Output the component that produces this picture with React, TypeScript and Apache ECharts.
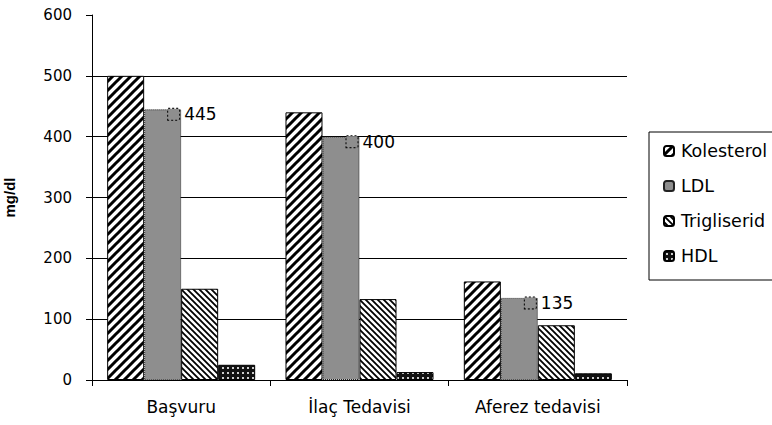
import React, { useEffect, useRef } from "react";
import * as echarts from "echarts";

const categories = ["Başvuru", "İlaç Tedavisi", "Aferez tedavisi"];
const seriesNames = ["Kolesterol", "LDL", "Trigliserid", "HDL"];
const kolesterol = [500, 440, 162];
const ldl = [445, 400, 135];
const trigliserid = [150, 133, 90];
const hdl = [25, 13, 11];
const yMin = 0;
const yMax = 600;
const yInterval = 100;

function makeTile(size: number, draw: (ctx: CanvasRenderingContext2D, s: number) => void) {
  const c = document.createElement("canvas");
  c.width = size;
  c.height = size;
  const ctx = c.getContext("2d")!;
  draw(ctx, size);
  return { image: c.toDataURL(), repeat: "repeat", imageWidth: size, imageHeight: size } as any;
}

function stripes(size: number, width: number, forward: boolean) {
  return makeTile(size, (ctx, s) => {
    ctx.fillStyle = "#fff";
    ctx.fillRect(0, 0, s, s);
    ctx.strokeStyle = "#000";
    ctx.lineWidth = width;
    ctx.lineCap = "square";
    const segs = forward
      ? [[-s, s, s, -s], [0, s, s, 0], [0, 2 * s, 2 * s, 0]]
      : [[0, 0, s, s], [-s, 0, s, 2 * s], [0, -s, 2 * s, s]];
    ctx.beginPath();
    for (const [x1, y1, x2, y2] of segs) {
      ctx.moveTo(x1, y1);
      ctx.lineTo(x2, y2);
    }
    ctx.stroke();
  });
}

function dots() {
  return makeTile(5, (ctx, s) => {
    ctx.fillStyle = "#111";
    ctx.fillRect(0, 0, s, s);
    ctx.fillStyle = "#ccc";
    ctx.fillRect(2, 2, 2, 2);
  });
}

export default function App() {
  const ref = useRef<HTMLDivElement>(null);
  useEffect(() => {
    if (!ref.current) return;
    const chart = echarts.init(ref.current, undefined, { renderer: "svg" });
    const font = "DejaVu Sans";
    const kolPattern = stripes(9, 3, true);
    const triPattern = stripes(6, 1.8, false);
    const hdlPattern = dots();
    const border = { borderColor: "#000", borderWidth: 1 };
    chart.setOption({
      animation: false,
      backgroundColor: "#fff",
      textStyle: { fontFamily: font, color: "#000" },
      grid: { left: 92, right: 145, top: 15, bottom: 45, containLabel: false, outerBoundsMode: "none" },
      legend: {
        orient: "vertical",
        left: 649,
        top: 132,
        data: seriesNames,
        itemWidth: 10,
        itemHeight: 10,
        itemGap: 17,
        padding: [10, 20, 15, 14],
        borderColor: "#000",
        borderWidth: 1,
        textStyle: { fontFamily: font, fontSize: 17.5, color: "#000", lineHeight: 17, padding: [0, 0, 0, 2] },
      },
      xAxis: {
        type: "category",
        data: categories,
        axisLine: { lineStyle: { color: "#000", width: 1 } },
        axisTick: { show: true, length: 6, alignWithLabel: false, lineStyle: { color: "#000" } },
        axisLabel: { fontFamily: font, fontSize: 17, color: "#000", margin: 18 },
      },
      yAxis: {
        type: "value",
        min: yMin,
        max: yMax,
        interval: yInterval,
        name: "mg/dl",
        nameLocation: "middle",
        nameGap: 75,
        nameTextStyle: { fontFamily: "Liberation Sans", fontWeight: "bold", fontSize: 15, color: "#000" },
        axisLine: { show: true, lineStyle: { color: "#000", width: 1 } },
        axisTick: { show: true, length: 6, lineStyle: { color: "#000" } },
        axisLabel: { fontFamily: font, fontSize: 15, color: "#000", margin: 20 },
        splitLine: { show: true, showMaxLine: false, lineStyle: { color: "#000", width: 1 } },
      },
      series: [
        {
          name: seriesNames[0],
          type: "bar",
          data: kolesterol,
          barGap: "0%",
          barCategoryGap: "17%",
          itemStyle: { color: kolPattern, ...border },
        },
        {
          name: seriesNames[1],
          type: "bar",
          data: ldl,
          itemStyle: { color: "#8e8e8e", borderColor: "#222", borderWidth: 1, borderType: "dotted" },
          label: {
            show: true,
            position: ["100%", 0],
            align: "left",
            verticalAlign: "top",
            offset: [-13, -4],
            formatter: "{b|}{v|{c}}",
            rich: {
              b: {
                width: 11,
                height: 11,
                backgroundColor: "#8e8e8e",
                borderColor: "#000",
                borderWidth: 1,
                borderType: "dotted",
              },
              v: { fontFamily: font, fontSize: 17, color: "#000", padding: [0, 0, 0, 5], lineHeight: 18 },
            },
          },
        },
        {
          name: seriesNames[2],
          type: "bar",
          data: trigliserid,
          itemStyle: { color: triPattern, ...border },
        },
        {
          name: seriesNames[3],
          type: "bar",
          data: hdl,
          itemStyle: { color: hdlPattern, ...border },
        },
      ],
    });
    return () => chart.dispose();
  }, []);
  return <div ref={ref} style={{ width: 772, height: 425, position: "absolute", left: 0, top: 0 }} />;
}
